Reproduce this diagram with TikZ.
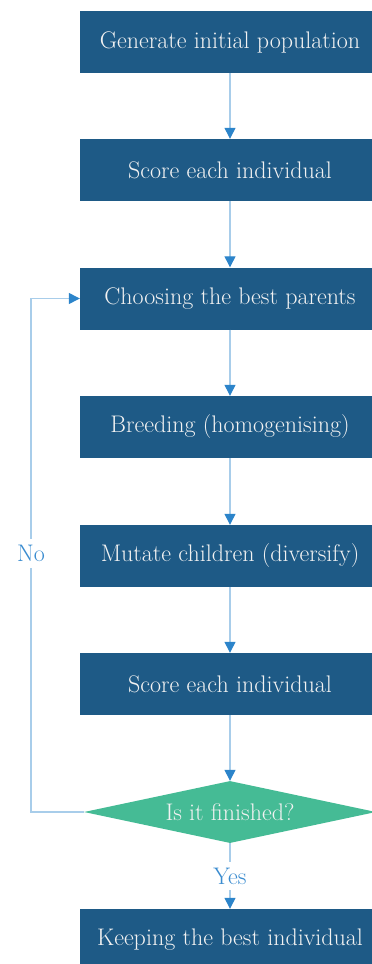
\documentclass[tikz,border=0pt]{standalone}
\usepackage{fontspec}
\usetikzlibrary{arrows.meta,shapes.geometric}
\definecolor{boxblue}{HTML}{1E5A86}
\definecolor{diagreen}{HTML}{45BB95}
\definecolor{linecol}{HTML}{A8CDEA}
\definecolor{tipcol}{HTML}{2C84CA}
\definecolor{labcol}{HTML}{3A8CD0}
\definecolor{boxtext}{HTML}{F2F2F2}
\begin{document}
\begin{tikzpicture}[x=1pt,y=-1pt,
  stepbox/.style={draw=none,fill=boxblue,minimum width=300pt,minimum height=62pt,inner sep=0pt,
    text=boxtext,font=\fontsize{24}{28}\selectfont},
  decision/.style={diamond,shape aspect=4.7,fill=diagreen,minimum width=292pt,minimum height=62pt,inner sep=0pt,
    text=boxtext,font=\fontsize{24}{28}\selectfont},
  conn/.style={draw=linecol,line width=1.3pt,-{Triangle[width=11pt,length=11pt,color=tipcol]}},
  lab/.style={fill=white,text=labcol,font=\fontsize{24}{28}\selectfont,inner xsep=2pt,inner ysep=6pt}]
\useasboundingbox (0,0) rectangle (372,964);
\node[stepbox] (b1) at (230,42) {Generate initial population};
\node[stepbox] (b2) at (230,170) {Score each individual};
\node[stepbox] (b3) at (230,298.5) {Choosing the best parents};
\node[stepbox] (b4) at (230,427) {Breeding (homogenising)};
\node[stepbox] (b5) at (230,556) {Mutate children (diversify)};
\node[stepbox] (b6) at (230,684) {Score each individual};
\node[decision] (d) at (230,812) {Is it finished?};
\node[stepbox] (b7) at (230,940) {Keeping the best individual};
\draw[conn] (b1) -- (b2);
\draw[conn] (b2) -- (b3);
\draw[conn] (b3) -- (b4);
\draw[conn] (b4) -- (b5);
\draw[conn] (b5) -- (b6);
\draw[conn] (b6) -- (d);
\draw[conn] (d.south) -- node[lab,pos=0.5] (yes) {Yes} (b7.north);
\coordinate (c1) at (31,812);
\coordinate (c2) at (31,298.5);
\draw[conn] (d.west) -- (c1) -- node[lab,pos=0.503] (no) {No} (c2) -- (b3.west);
\end{tikzpicture}
\end{document}
